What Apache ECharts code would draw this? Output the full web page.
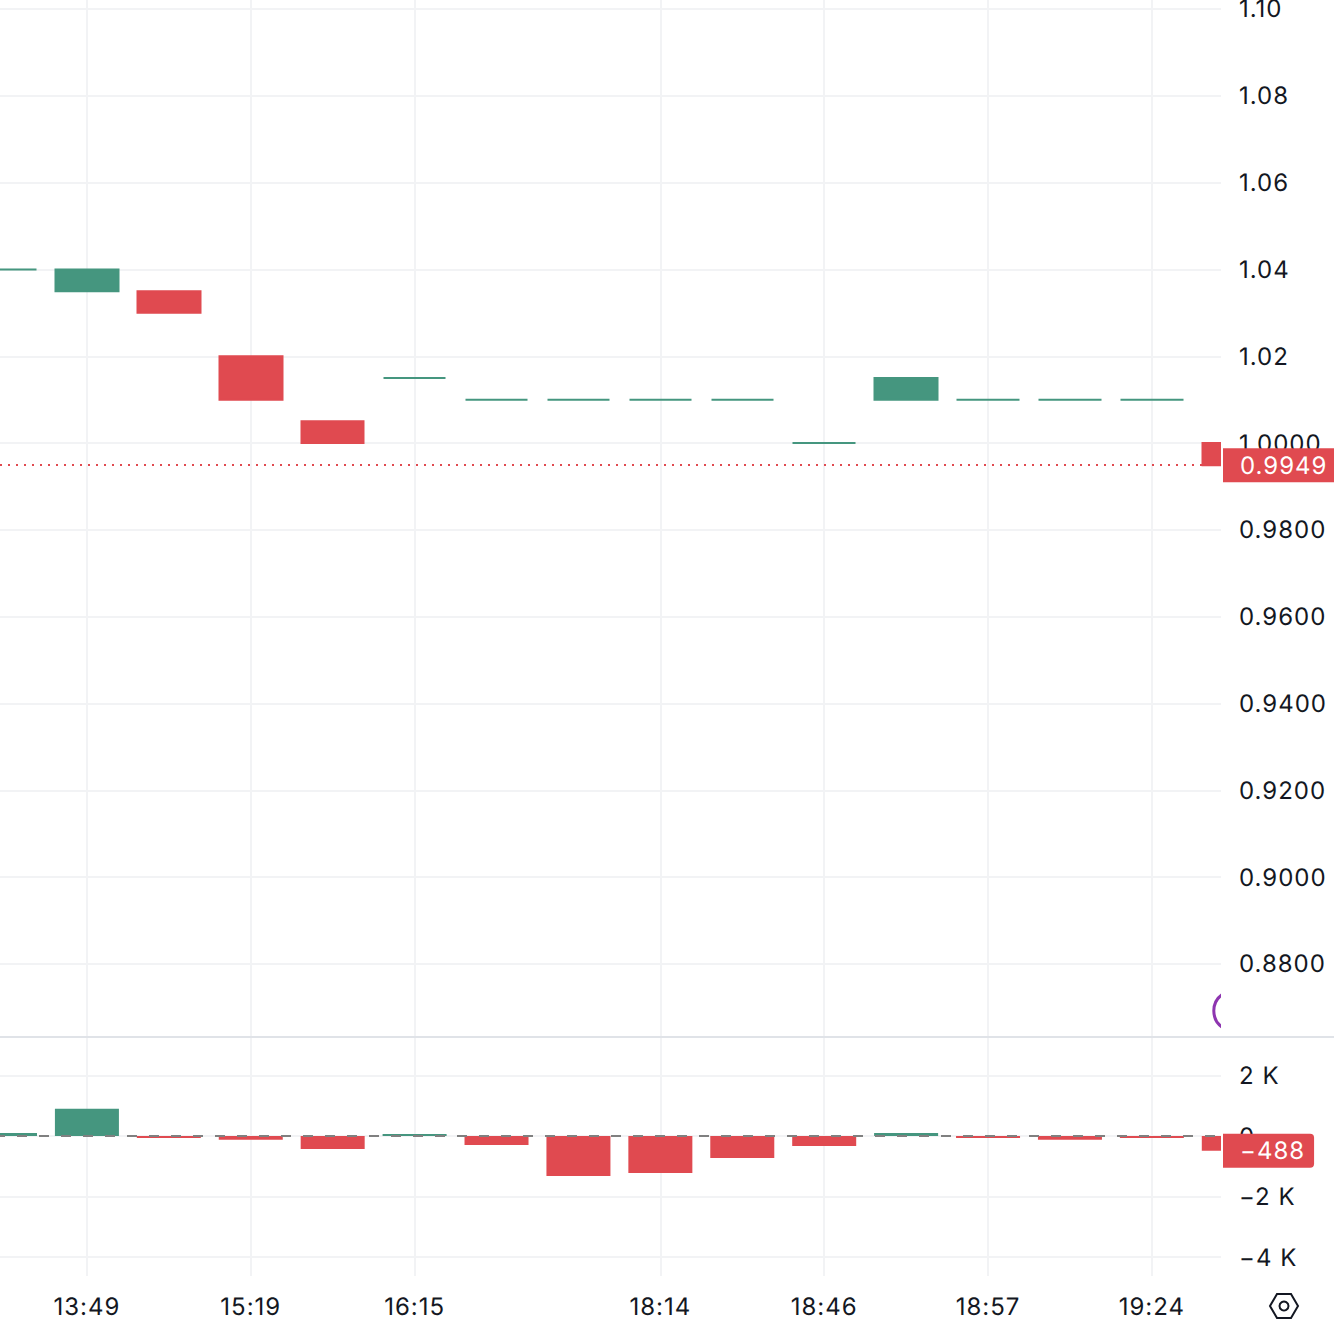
<!DOCTYPE html>
<html>
<head>
<meta charset="utf-8">
<title>Price and net flow</title>
<style>
html,body{margin:0;padding:0;background:#fff}
#chart{width:1334px;height:1328px}
#chart svg text{letter-spacing:1px;text-rendering:geometricPrecision}
</style>
<script src="https://cdn.jsdelivr.net/npm/echarts@6/dist/echarts.min.js"></script>
</head>
<body>
<div id="chart"></div>
<script>
// Session labels, one per candle; blanks have no tick on the time axis.
const timeLabels = ['', '13:49', '', '15:19', '', '16:15', '', '', '18:14', '', '18:46', '', '18:57', '', '19:24', ''];

// Candle bodies
const opens  = [1.04, 1.035, 1.035, 1.02, 1.005, 1.015, 1.01, 1.01, 1.01, 1.01, 1.00, 1.01,  1.01, 1.01, 1.01, 1.00];
const closes = [1.04, 1.04,  1.03,  1.01, 1.00,  1.015, 1.01, 1.01, 1.01, 1.01, 1.00, 1.015, 1.01, 1.01, 1.01, 0.9949];

// Net flow per candle
const flows = [100, 900, -30, -120, -430, 25, -300, -1320, -1220, -730, -330, 100, -30, -120, -30, -488];

// Price axis ticks and their printed form
const priceTicks = [1.10, 1.08, 1.06, 1.04, 1.02, 1.00, 0.98, 0.96, 0.94, 0.92, 0.90, 0.88];
const priceTickLabels = ['1.10', '1.08', '1.06', '1.04', '1.02', '1.0000', '0.9800', '0.9600', '0.9400', '0.9200', '0.9000', '0.8800'];

// Flow axis ticks and their printed form
const flowTicks = [2000, 0, -2000, -4000];
const flowTickLabels = ['2 K', '0', '\u22122 K', '\u22124 K'];

// Study marker sitting on the last candle
const studyMarker = [[15, 0.8692]];

const lastPrice = closes[closes.length - 1];
const lastFlow = flows[flows.length - 1];

const UP = '#45967f';
const DOWN = '#e04a50';
const INK = '#131722';
const GRID = '#f2f3f5';
const FONT = 'Inter, "Noto Sans", sans-serif';

const timeTicks = timeLabels.map((t, i) => (t ? i : -1)).filter(i => i >= 0);
const candleData = opens.map((o, i) => [i, o, closes[i], Math.min(o, closes[i]), Math.max(o, closes[i])]);
const flowData = flows.map((v, i) => [i, v]);

const xBase = {
  type: 'value',
  min: -0.06104,
  max: 14.8438,
  axisLine: { show: false },
  axisTick: { show: false, customValues: timeTicks },
  splitLine: { show: true, lineStyle: { color: GRID, width: 2 } }
};

// Each pane gets a grid-line axis under the marks and a label axis above the gutter.
function paneAxes(gridIndex, min, max, ticks, labelOf) {
  const common = {
    type: 'value',
    position: 'right',
    gridIndex,
    min,
    max,
    axisLine: { show: false },
    axisTick: { show: false, customValues: ticks }
  };
  return [
    Object.assign({}, common, {
      z: 0,
      axisLabel: { show: false, customValues: ticks },
      splitLine: { show: true, lineStyle: { color: GRID, width: 2 } }
    }),
    Object.assign({}, common, {
      z: 6,
      splitLine: { show: false },
      axisLabel: {
        customValues: ticks,
        color: INK, fontFamily: FONT, fontSize: 24, margin: 18, align: 'left',
        formatter: labelOf
      }
    })
  ];
}

const chart = echarts.init(document.getElementById('chart'), null, { renderer: 'svg' });

chart.setOption({
  animation: false,
  backgroundColor: '#fff',
  grid: [
    { left: 0, top: 0, width: 1221, height: 1037, outerBoundsMode: 'none' },
    { left: 0, top: 1038, width: 1221, height: 238, outerBoundsMode: 'none' }
  ],
  xAxis: [
    Object.assign({}, xBase, { gridIndex: 0, axisLabel: { show: false, customValues: timeTicks } }),
    Object.assign({}, xBase, {
      gridIndex: 1,
      axisLabel: {
        customValues: timeTicks,
        color: INK, fontFamily: FONT, fontSize: 24, margin: 18, align: 'center',
        formatter: v => timeLabels[Math.round(v)]
      }
    })
  ],
  yAxis: [
    ...paneAxes(0, 0.86318, 1.10207, priceTicks,
      v => priceTickLabels[priceTicks.findIndex(t => Math.abs(t - v) < 1e-6)]),
    ...paneAxes(1, -4620, 3234, flowTicks,
      v => flowTickLabels[flowTicks.indexOf(v)])
  ],
  series: [
    {
      type: 'candlestick',
      name: 'Price',
      xAxisIndex: 0,
      yAxisIndex: 0,
      barWidth: 63,
      data: candleData,
      itemStyle: {
        color: UP, color0: DOWN,
        borderColor: UP, borderColor0: DOWN, borderColorDoji: UP,
        borderWidth: 2
      },
      markLine: {
        silent: true,
        symbol: 'none',
        precision: 4,
        z: 7,
        lineStyle: { color: DOWN, type: [2, 6], width: 2 },
        label: {
          show: true,
          position: 'end',
          distance: 2,
          formatter: lastPrice.toFixed(4),
          color: '#fff',
          fontFamily: FONT,
          fontSize: 24,
          backgroundColor: DOWN,
          padding: [5, 14, 5, 17]
        },
        data: [{ yAxis: lastPrice }]
      }
    },
    {
      type: 'custom',
      name: 'Study',
      xAxisIndex: 0,
      yAxisIndex: 0,
      clip: true,
      data: studyMarker,
      encode: { x: 0, y: 1 },
      renderItem: (params, api) => {
        const p = api.coord([api.value(0), api.value(1)]);
        return {
          type: 'circle',
          shape: { cx: p[0], cy: p[1], r: 20 },
          style: { fill: 'none', stroke: '#8e35b0', lineWidth: 3 }
        };
      }
    },
    {
      type: 'bar',
      name: 'Flow',
      xAxisIndex: 1,
      yAxisIndex: 2,
      barWidth: 64,
      barMinHeight: 2,
      data: flowData,
      itemStyle: { color: p => (p.value[1] >= 0 ? UP : DOWN) },
      markLine: {
        silent: true,
        symbol: 'none',
        precision: 0,
        z: 7,
        data: [
          {
            yAxis: 0,
            lineStyle: { color: '#808080', type: [10, 12], dashOffset: 5, width: 2 },
            label: { show: false }
          },
          {
            yAxis: lastFlow,
            lineStyle: { color: 'rgba(0,0,0,0)', width: 0 },
            label: {
              show: true,
              position: 'end',
              distance: 2,
              formatter: '\u2212' + Math.abs(lastFlow),
              color: '#fff',
              fontFamily: FONT,
              fontSize: 24,
              backgroundColor: DOWN,
              borderRadius: [0, 4, 4, 0],
              padding: [5, 13, 5, 17]
            }
          }
        ]
      }
    }
  ],
  graphic: [
    // Axis gutter: keeps the candles that run past the plot edge out of the scale column
    { type: 'rect', silent: true, z: 4, shape: { x: 1221, y: 0, width: 113, height: 1328 }, style: { fill: '#fff' } },
    // Pane separator
    { type: 'rect', silent: true, z: 5, shape: { x: 0, y: 1036, width: 1334, height: 2 }, style: { fill: '#e0e3e8' } },
    // Settings button
    {
      type: 'polygon',
      silent: true,
      z: 5,
      shape: { points: [[1270, 1306], [1277, 1294], [1291, 1294], [1298, 1306], [1291, 1318], [1277, 1318]] },
      style: { fill: 'none', stroke: INK, lineWidth: 2 }
    },
    {
      type: 'circle',
      silent: true,
      z: 5,
      shape: { cx: 1284, cy: 1306, r: 4.5 },
      style: { fill: 'none', stroke: INK, lineWidth: 2 }
    }
  ]
});
</script>
</body>
</html>
